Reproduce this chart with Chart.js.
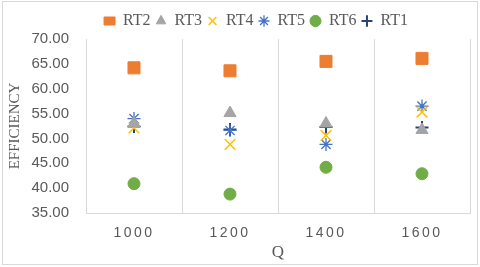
<!DOCTYPE html>
<html lang="en">
<head>
    <meta charset="UTF-8">
    <script src="https://cdn.jsdelivr.net/npm/chart.js"></script>
    <title>Efficiency vs Q</title>
    <style>
        body { margin: 0; background: #fff; }
        #wrap { width: 480px; height: 267px; }
    </style>
</head>
<body>
    <div id="wrap"><canvas id="effChart"></canvas></div>

    <script>
        // Data
        const categories = ['1000', '1200', '1400', '1600'];
        const rt2 = [64.2, 63.6, 65.5, 66.1];
        const rt3 = [53.0, 55.1, 53.0, 51.7];
        const rt4 = [52.1, 48.8, 50.6, 55.3];
        const rt5 = [54.0, 51.6, 48.8, 56.5];
        const rt6 = [40.9, 38.8, 44.2, 42.9];
        const rt1 = [52.4, 51.8, 52.3, 52.2];
        const yTicks = [35, 40, 45, 50, 55, 60, 65, 70];

        const ctx = document.getElementById('effChart').getContext('2d');

        function series(label, values, color, style, size, border) {
            return {
                label: label,
                data: values,
                showLine: false,
                pointStyle: style,
                pointRadius: size,
                pointHoverRadius: size,
                backgroundColor: color,
                borderColor: color,
                pointBorderWidth: border,
            };
        }

        // outer light border of the chart box
        const frame = {
            id: 'frame',
            beforeDraw(chart) {
                const c = chart.ctx;
                c.save();
                c.fillStyle = '#fff';
                c.fillRect(0, 0, chart.width, chart.height);
                c.strokeStyle = '#d9d9d9';
                c.lineWidth = 1;
                c.strokeRect(2.5, 1.5, chart.width - 5, chart.height - 4);
                c.restore();
            }
        };

        // legend sits a bit right of the canvas centre; x labels are letter-spaced
        const tweaks = {
            id: 'tweaks',
            afterLayout(chart) {
                chart.legend.left += 18;
                chart.legend.right += 18;
                const xs = chart.scales.x;
                if (!xs._spaced) {
                    const orig = xs.drawLabels;
                    xs.drawLabels = function (area) {
                        this.ctx.save();
                        this.ctx.letterSpacing = '2.5px';
                        orig.call(this, area);
                        this.ctx.restore();
                    };
                    xs._spaced = true;
                }
            }
        };

        new Chart(ctx, {
            type: 'line',
            data: {
                labels: categories,
                datasets: [
                    series('RT2', rt2, '#ED7D31', 'rect', 8.5, 1),
                    series('RT3', rt3, '#A5A5A5', 'triangle', 7, 1),
                    series('RT4', rt4, '#FFC000', 'crossRot', 7.5, 1.5),
                    series('RT5', rt5, '#4472C4', 'star', 6.5, 1.3),
                    series('RT6', rt6, '#70AD47', 'circle', 6, 1),
                    series('RT1', rt1, '#264478', 'cross', 6.5, 2),
                ]
            },
            options: {
                responsive: true,
                maintainAspectRatio: false,
                animation: false,
                layout: { padding: { left: 6, right: 10, top: 8, bottom: 4 } },
                plugins: {
                    tooltip: { enabled: false },
                    legend: {
                        position: 'top',
                        labels: {
                            usePointStyle: true,
                            pointStyleWidth: 11,
                            boxHeight: 8,
                            padding: 5,
                            color: '#595959',
                            font: { family: 'Liberation Serif', size: 16 }
                        }
                    }
                },
                scales: {
                    x: {
                        type: 'category',
                        offset: true,
                        afterFit: (scale) => { scale.height = 50; },
                        grid: { offset: true, color: '#d9d9d9', drawTicks: false },
                        border: { color: '#d9d9d9' },
                        ticks: {
                            color: '#595959',
                            padding: 12,
                            maxRotation: 0,
                            font: { family: 'Liberation Sans', size: 14 }
                        },
                        title: {
                            display: true,
                            text: 'Q',
                            color: '#595959',
                            padding: { top: 0, bottom: 0 },
                            font: { family: 'Liberation Serif', size: 17 }
                        }
                    },
                    y: {
                        min: 35,
                        max: 70,
                        afterFit: (scale) => { scale.width = 80; },
                        afterBuildTicks: (scale) => { scale.ticks = yTicks.map(v => ({ value: v })); },
                        grid: { display: false, drawTicks: false },
                        border: { display: false },
                        ticks: {
                            color: '#595959',
                            padding: 17,
                            font: { family: 'Liberation Sans', size: 15 },
                            callback: (v) => v.toFixed(2)
                        },
                        title: {
                            display: true,
                            text: 'EFFICIENCY',
                            color: '#595959',
                            padding: { top: 0, bottom: 4 },
                            font: { family: 'Liberation Serif', size: 15 }
                        }
                    }
                }
            },
            plugins: [frame, tweaks]
        });
    </script>
</body>
</html>
